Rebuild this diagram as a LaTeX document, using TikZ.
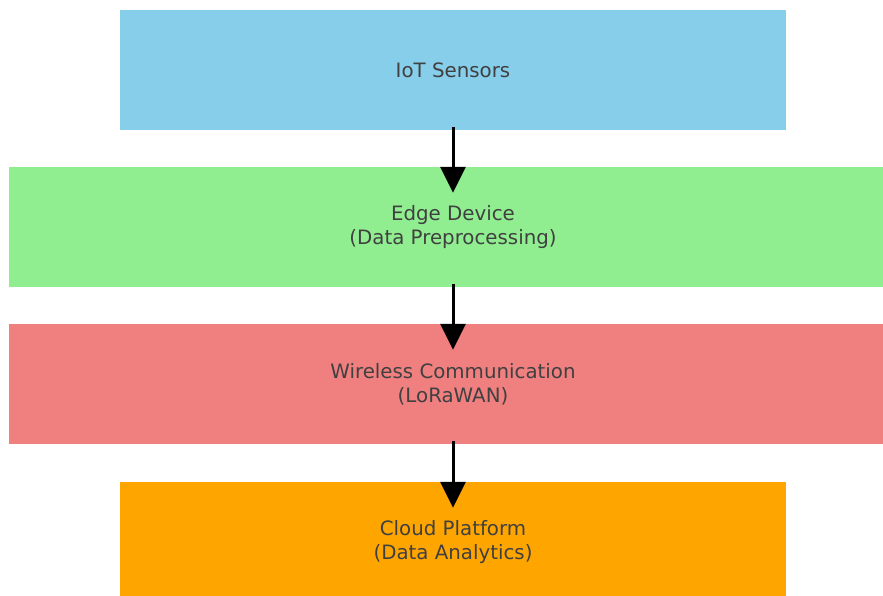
\documentclass[tikz,border=0pt]{standalone}
\usepackage{fontspec}
\setmainfont{DejaVu Sans}
\usetikzlibrary{arrows.meta}
\definecolor{cblue}{HTML}{87CEEB}
\definecolor{cgreen}{HTML}{90EE90}
\definecolor{cred}{HTML}{F08080}
\definecolor{corange}{HTML}{FFA500}
\definecolor{ctext}{HTML}{404040}
\tikzset{
  layer/.style={rectangle, draw=none, minimum height=120pt, inner sep=0pt,
    text=ctext, align=center, font=\fontsize{19.8pt}{23.8pt}\selectfont},
  narrow/.style={layer, minimum width=666pt},
  wide/.style={layer, minimum width=887.4pt},
  arr/.style={line width=3pt, draw=black, -{Triangle[length=26pt,width=25pt]}}
}
\begin{document}
\begin{tikzpicture}[x=1pt,y=-1pt]
\useasboundingbox (0,0) rectangle (883,595);
\clip (0,0) rectangle (883,595);
\fill[white] (0,0) rectangle (883,595);
\node[narrow, fill=cblue] (iot) at (453,70) {IoT Sensors};
\node[wide, fill=cgreen] (edge) at (453,227) {Edge Device\\(Data Preprocessing)};
\node[wide, fill=cred] (wireless) at (453,384) {Wireless Communication\\(LoRaWAN)};
\node[narrow, fill=corange] (cloud) at (453,542) {Cloud Platform\\(Data Analytics)};
\draw[arr] ([yshift=3pt]iot.south) -- ([yshift=-26pt]edge.north);
\draw[arr] ([yshift=3pt]edge.south) -- ([yshift=-26pt]wireless.north);
\draw[arr] ([yshift=3pt]wireless.south) -- ([yshift=-26pt]cloud.north);
\end{tikzpicture}
\end{document}
